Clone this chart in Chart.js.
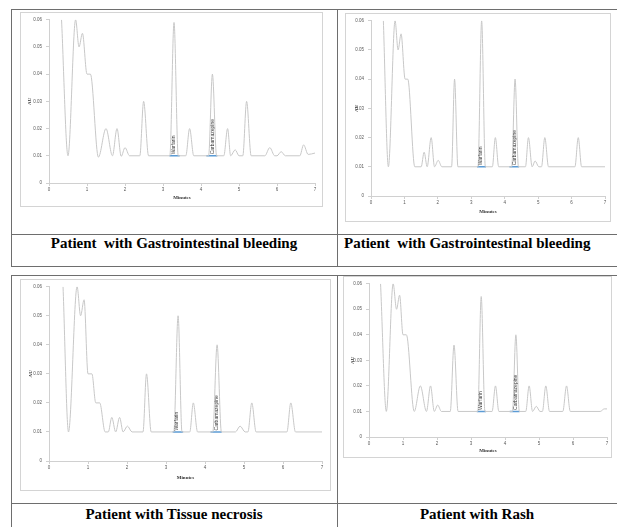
<!DOCTYPE html>
<html>
<head>
<meta charset="utf-8">
<script src="https://cdn.jsdelivr.net/npm/chart.js@4.4.0/dist/chart.umd.min.js"></script>
<style>
  body { margin: 0; width: 617px; height: 527px; position: relative; background: #fff; overflow: hidden; font-family: "Liberation Serif", serif; }
  .ln { position: absolute; background: #6e6e6e; }
  .frame { position: absolute; border: 1px solid #d4d4d4; box-sizing: border-box; }
  .cap { position: absolute; font-weight: bold; font-size: 15px; line-height: 15px; white-space: pre; color: #000; }
</style>
</head>
<body>
<!-- top table -->
<div class="ln" style="left:11px;top:9px;width:606px;height:1px"></div>
<div class="ln" style="left:11px;top:234px;width:606px;height:1px"></div>
<div class="ln" style="left:11px;top:266px;width:606px;height:1px"></div>
<div class="ln" style="left:11px;top:9px;width:1px;height:258px"></div>
<div class="ln" style="left:337px;top:9px;width:1px;height:258px"></div>
<!-- bottom table -->
<div class="ln" style="left:11px;top:275px;width:606px;height:1px"></div>
<div class="ln" style="left:11px;top:503px;width:606px;height:1px"></div>
<div class="ln" style="left:11px;top:275px;width:1px;height:252px"></div>
<div class="ln" style="left:337px;top:275px;width:1px;height:252px"></div>

<div class="frame" style="left:20px;top:12px;width:303px;height:195px"><canvas id="c1"></canvas></div>
<div class="frame" style="left:345px;top:13px;width:266px;height:209px"><canvas id="c2"></canvas></div>
<div class="frame" style="left:20px;top:279px;width:311px;height:212px"><canvas id="c3"></canvas></div>
<div class="frame" style="left:343px;top:276px;width:269px;height:182px"><canvas id="c4"></canvas></div>

<div class="cap" style="left:11px;top:236px;width:326px;text-align:center">Patient  with Gastrointestinal bleeding</div>
<div class="cap" style="left:344px;top:236px">Patient  with Gastrointestinal bleeding</div>
<div class="cap" style="left:11px;top:507px;width:326px;text-align:center">Patient with Tissue necrosis</div>
<div class="cap" style="left:337px;top:507px;width:280px;text-align:center">Patient with Rash</div>

<script>
// chromatogram 1 - gastrointestinal bleeding (left)
const gi1Time = [0.33, 0.5, 0.7, 0.79, 0.88, 1.0, 1.09, 1.3, 1.5, 1.67, 1.79, 1.9, 2.0, 2.12, 2.39, 2.49, 2.62, 3.18, 3.29, 3.4, 3.6, 3.7, 3.81, 4.2, 4.3, 4.41, 4.6, 4.7, 4.78, 4.9, 5.0, 5.1, 5.2, 5.32, 5.68, 5.81, 5.94, 6.0, 6.11, 6.22, 6.6, 6.7, 6.82, 7.0];
const gi1AU   = [0.06, 0.01, 0.06, 0.05, 0.055, 0.04, 0.04, 0.0095, 0.02, 0.01, 0.02, 0.0098, 0.013, 0.01, 0.01, 0.03, 0.01, 0.01, 0.059, 0.01, 0.01, 0.02, 0.01, 0.01, 0.04, 0.01, 0.01, 0.02, 0.01, 0.0122, 0.01, 0.01, 0.03, 0.01, 0.01, 0.013, 0.01, 0.01, 0.0115, 0.01, 0.01, 0.014, 0.0105, 0.011];

// chromatogram 2 - gastrointestinal bleeding (right)
const gi2Time = [0.37, 0.52, 0.72, 0.81, 0.9, 1.02, 1.1, 1.31, 1.5, 1.59, 1.68, 1.8, 1.9, 2.01, 2.12, 2.41, 2.5, 2.6, 3.2, 3.31, 3.42, 3.63, 3.72, 3.82, 4.21, 4.31, 4.41, 4.62, 4.71, 4.82, 4.91, 5.02, 5.1, 5.2, 5.31, 6.1, 6.2, 6.3, 7.0];
const gi2AU   = [0.06, 0.01, 0.06, 0.05, 0.0555, 0.04, 0.04, 0.01, 0.01, 0.015, 0.01, 0.02, 0.01, 0.0122, 0.01, 0.01, 0.04, 0.01, 0.01, 0.06, 0.01, 0.01, 0.02, 0.01, 0.01, 0.04, 0.01, 0.01, 0.02, 0.01, 0.012, 0.01, 0.01, 0.02, 0.01, 0.01, 0.02, 0.01, 0.01];

// chromatogram 3 - tissue necrosis
const necTime = [0.36, 0.5, 0.72, 0.81, 0.9, 1.0, 1.1, 1.2, 1.3, 1.44, 1.52, 1.61, 1.71, 1.81, 1.9, 2.01, 2.13, 2.41, 2.5, 2.62, 3.2, 3.31, 3.41, 3.61, 3.7, 3.81, 4.2, 4.31, 4.42, 4.78, 4.9, 5.03, 5.1, 5.2, 5.31, 6.1, 6.2, 6.32, 7.0];
const necAU   = [0.06, 0.01, 0.06, 0.05, 0.0555, 0.03, 0.03, 0.02, 0.02, 0.01, 0.01, 0.015, 0.01, 0.015, 0.01, 0.012, 0.01, 0.01, 0.03, 0.01, 0.01, 0.05, 0.01, 0.01, 0.02, 0.01, 0.01, 0.04, 0.01, 0.01, 0.012, 0.01, 0.01, 0.02, 0.01, 0.01, 0.02, 0.01, 0.01];

// chromatogram 4 - rash
const rashTime = [0.34, 0.51, 0.71, 0.81, 0.9, 1.0, 1.1, 1.33, 1.51, 1.69, 1.81, 1.92, 2.02, 2.13, 2.39, 2.5, 2.62, 3.2, 3.3, 3.41, 3.62, 3.72, 3.82, 4.22, 4.32, 4.42, 4.61, 4.71, 4.81, 4.92, 5.03, 5.1, 5.2, 5.31, 5.7, 5.81, 5.92, 6.8, 6.92, 7.0];
const rashAU   = [0.06, 0.01, 0.06, 0.05, 0.0555, 0.04, 0.04, 0.01, 0.02, 0.01, 0.02, 0.01, 0.0125, 0.01, 0.01, 0.036, 0.01, 0.01, 0.055, 0.01, 0.01, 0.02, 0.01, 0.01, 0.04, 0.01, 0.01, 0.02, 0.01, 0.012, 0.01, 0.01, 0.02, 0.01, 0.01, 0.02, 0.01, 0.01, 0.011, 0.011];

// named peaks and their integration bands (minutes)
const peakNames = ['Warfarin', 'Carbamazepine'];
const peakLabelTimes = [3.28, 4.3];
const peakBandStart = [3.17, 4.14];
const peakBandEnd = [3.44, 4.43];
const baselineAU = 0.01;

const xTickLabels = ['0', '1', '2', '3', '4', '5', '6', '7'];
const yTickLabels = ['0', '0.01', '0.02', '0.03', '0.04', '0.05', '0.06'];

// rotated compound names above the baseline
const peakLabelPlugin = {
  id: 'peakLabels',
  afterDatasetsDraw(chart) {
    const { ctx, scales: { x, y } } = chart;
    ctx.save();
    ctx.font = '5px "Liberation Sans"';
    ctx.fillStyle = '#404040';
    ctx.textAlign = 'left';
    ctx.textBaseline = 'middle';
    peakNames.forEach((name, i) => {
      ctx.save();
      ctx.translate(x.getPixelForValue(peakLabelTimes[i]), y.getPixelForValue(baselineAU) - 1.5);
      ctx.rotate(-Math.PI / 2);
      ctx.fillText(name, 0, 0);
      ctx.restore();
    });
    ctx.restore();
  }
};

function makeChart(id, times, values, box) {
  const bands = peakNames.map((n, i) => ({
    data: [{ x: peakBandStart[i], y: baselineAU }, { x: peakBandEnd[i], y: baselineAU }],
    borderColor: 'rgb(91,155,213)',
    borderWidth: 1.5,
    pointRadius: 0
  }));
  const tickFont = { family: 'Liberation Sans', size: 4.5 };
  const titleFont = { family: 'Liberation Serif', size: 5, weight: 'bold' };
  return new Chart(document.getElementById(id), {
    type: 'line',
    data: {
      datasets: [{
        data: times.map((t, i) => ({ x: t, y: values[i] })),
        borderColor: 'rgb(200,200,200)',
        borderWidth: 1,
        pointRadius: 0,
        cubicInterpolationMode: 'monotone'
      }, ...bands]
    },
    options: {
      responsive: true,
      maintainAspectRatio: false,
      animation: false,
      layout: { padding: { left: 0, right: box.right, top: box.top, bottom: 0 } },
      plugins: { legend: { display: false }, tooltip: { enabled: false } },
      scales: {
        x: {
          type: 'linear', min: 0, max: 7,
          afterFit: s => { s.height = box.xH; },
          ticks: { stepSize: 1, font: tickFont, color: '#595959', padding: 1, maxRotation: 0,
                   callback: (v, i) => xTickLabels[i] },
          grid: { drawOnChartArea: false, tickLength: 3, color: '#d0d0d0' },
          border: { color: '#d0d0d0' },
          title: { display: true, text: 'Minutes', font: titleFont, color: '#333', padding: { top: 0, bottom: box.xTitle } }
        },
        y: {
          min: 0, max: 0.06,
          afterFit: s => { s.width = box.yW; },
          ticks: { stepSize: 0.01, font: tickFont, color: '#595959', padding: 4,
                   callback: (v, i) => yTickLabels[i] },
          grid: { drawOnChartArea: false, tickLength: 3, color: '#d0d0d0' },
          border: { color: '#d0d0d0' },
          title: { display: true, text: 'AU', font: titleFont, color: '#333', padding: { top: box.yTitle, bottom: 0 } }
        }
      }
    },
    plugins: [peakLabelPlugin]
  });
}

makeChart('c1', gi1Time, gi1AU, { yW: 28, right: 7, top: 4, xH: 23, xTitle: 5, yTitle: 6 });
makeChart('c2', gi2Time, gi2AU, { yW: 25, right: 5, top: 4, xH: 25, xTitle: 6, yTitle: 8 });
makeChart('c3', necTime, necAU, { yW: 28, right: 8, top: 4, xH: 29, xTitle: 9, yTitle: 7 });
makeChart('c4', rashTime, rashAU, { yW: 25, right: 4, top: 5, xH: 20, xTitle: 3, yTitle: 6 });
</script>
</body>
</html>
